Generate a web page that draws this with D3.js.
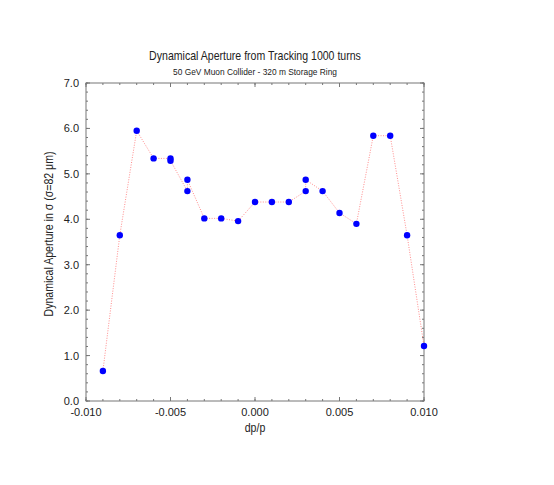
<!DOCTYPE html>
<html>
<head>
<meta charset="utf-8">
<script src="https://cdn.jsdelivr.net/npm/d3@7"></script>
<style>
  body { margin: 0; background: #fff; }
  svg text { font-family: "Liberation Sans", Arial, sans-serif; fill: #222; }
</style>
</head>
<body>
<div id="chart"></div>
<script>
// dp/p values (in tracking order) and dynamical aperture in sigma
const dpp = [-0.009, -0.008, -0.007, -0.006, -0.005, -0.005, -0.004, -0.004, -0.003, -0.002,
             -0.001, 0.000, 0.001, 0.002, 0.003, 0.003, 0.004, 0.005, 0.006, 0.007,
             0.008, 0.009, 0.010];
const aperture = [0.66, 3.65, 5.95, 5.34, 5.34, 5.29, 4.62, 4.87, 4.02, 4.02,
                  3.96, 4.38, 4.38, 4.38, 4.62, 4.87, 4.62, 4.14, 3.90, 5.84,
                  5.84, 3.65, 1.21];
const xTicks = [-0.010, -0.005, 0.000, 0.005, 0.010];
const yTicks = [0, 1, 2, 3, 4, 5, 6, 7];

const W = 554, H = 485;
const margin = {top: 83, right: 130, bottom: 84, left: 86};
const width = W - margin.left - margin.right,
      height = H - margin.top - margin.bottom;

const svg = d3.select("#chart").append("svg")
  .attr("width", W).attr("height", H);
const g = svg.append("g")
  .attr("transform", `translate(${margin.left}, ${margin.top})`);

const x = d3.scaleLinear().domain([-0.010, 0.010]).range([0, width]);
const y = d3.scaleLinear().domain([0, 7]).range([height, 0]);

const minorX = d3.range(-0.010, 0.0105, 0.001);
const minorY = d3.range(0, 7.01, 0.2);

// frame
g.append("rect")
  .attr("width", width).attr("height", height)
  .attr("fill", "none").attr("stroke", "#777").attr("stroke-width", 1);

// inward ticks on all four sides
function ticks(vals, len) {
  vals.forEach(v => {
    const px = x(v);
    g.append("line").attr("x1", px).attr("x2", px).attr("y1", height).attr("y2", height - len);
    g.append("line").attr("x1", px).attr("x2", px).attr("y1", 0).attr("y2", len);
  });
}
function yticks(vals, len) {
  vals.forEach(v => {
    const py = y(v);
    g.append("line").attr("y1", py).attr("y2", py).attr("x1", 0).attr("x2", len);
    g.append("line").attr("y1", py).attr("y2", py).attr("x1", width).attr("x2", width - len);
  });
}
ticks(minorX, 2);
ticks(xTicks, 4);
yticks(minorY, 2);
yticks(yTicks, 4);
g.selectAll("line").attr("stroke", "#777").attr("stroke-width", 1);

// tick labels
g.selectAll(".xl").data(xTicks).join("text")
  .attr("x", d => x(d)).attr("y", height + 15)
  .attr("text-anchor", "middle").style("font-size", "11px")
  .text(d => d3.format(".3f")(d).replace("−", "-"));

g.selectAll(".yl").data(yTicks).join("text")
  .attr("x", -7).attr("y", d => y(d) + 4)
  .attr("text-anchor", "end").style("font-size", "11px")
  .text(d => d3.format(".1f")(d));

// dotted connecting line
const line = d3.line().x((d, i) => x(dpp[i])).y(d => y(d));
g.append("path")
  .datum(aperture)
  .attr("d", line)
  .attr("fill", "none")
  .attr("stroke", "#ff7070")
  .attr("stroke-width", 0.8)
  .attr("stroke-dasharray", "1,1.5");

// points
g.selectAll("circle").data(aperture).join("circle")
  .attr("cx", (d, i) => x(dpp[i]))
  .attr("cy", d => y(d))
  .attr("r", 3.2)
  .attr("fill", "#0000ff");

// narrow-ish text (the original font is a bit condensed)
function label(tx, ty, rot, size, str) {
  g.append("text")
    .attr("transform", `translate(${tx}, ${ty}) rotate(${rot}) scale(0.88, 1)`)
    .attr("text-anchor", "middle").style("font-size", size)
    .text(str);
}

label(width / 2, -23, 0, "12px", "Dynamical Aperture from Tracking 1000 turns");
label(width / 2, -8, 0, "9.5px", "50 GeV Muon Collider - 320 m Storage Ring");
label(width / 2, height + 31, 0, "12px", "dp/p");
label(-33, height / 2 - 8, -90, "12px", "Dynamical Aperture in σ (σ=82 μm)");
</script>
</body>
</html>
